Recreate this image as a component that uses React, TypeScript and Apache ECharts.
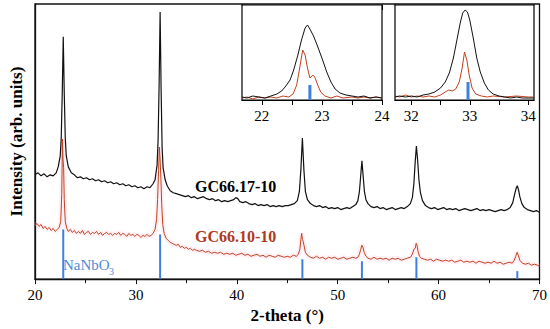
import React, { useEffect, useRef } from "react";
import * as echarts from "echarts";

// Main pattern, intensity in arbitrary units
const blackMain: number[][] = [
  [20.0, 105], [20.3, 107], [20.6, 104], [20.9, 106], [21.2, 103], [21.5, 105], [21.8, 104], [22.1, 107],
  [22.3, 113], [22.5, 124], [22.6, 142], [22.7, 187], [22.8, 244], [22.9, 187], [23.0, 142], [23.1, 124],
  [23.3, 113], [23.6, 107], [23.9, 105], [24.2, 102], [24.5, 103], [24.8, 101], [25.1, 102], [25.4, 100],
  [25.7, 101], [26.0, 99], [26.3, 100], [26.6, 98], [26.9, 99], [27.2, 97], [27.5, 98], [27.8, 96],
  [28.1, 97], [28.4, 95], [28.7, 96], [29.0, 94], [29.3, 95], [29.6, 93], [29.9, 94], [30.2, 92],
  [30.5, 93], [30.8, 91], [31.1, 93], [31.4, 92], [31.7, 96], [31.9, 100], [32.1, 115], [32.2, 140],
  [32.3, 195], [32.4, 269], [32.5, 190], [32.6, 132], [32.7, 112], [32.9, 100], [33.1, 94], [33.4, 89],
  [33.7, 87], [34.0, 86], [34.3, 85], [34.6, 84], [34.9, 83], [35.2, 84], [35.5, 82], [35.8, 83],
  [36.1, 81], [36.4, 82], [36.7, 83], [37.0, 81], [37.3, 80], [37.6, 81], [37.9, 79], [38.2, 80],
  [38.5, 78], [38.8, 79], [39.1, 78], [39.4, 79], [39.7, 80], [39.9, 82], [40.1, 81], [40.3, 78],
  [40.6, 77], [40.9, 78], [41.2, 76], [41.5, 75], [41.8, 76], [42.1, 74], [42.4, 75], [42.7, 74],
  [43.0, 75], [43.3, 73], [43.6, 74], [43.9, 73], [44.2, 74], [44.5, 73], [44.8, 74], [45.1, 74],
  [45.4, 75], [45.7, 76], [46.0, 79], [46.2, 88], [46.35, 110], [46.5, 142], [46.65, 110], [46.8, 88],
  [47.0, 80], [47.3, 76], [47.6, 74], [47.9, 73], [48.2, 74], [48.5, 72], [48.8, 73], [49.1, 71],
  [49.4, 72], [49.7, 71], [50.0, 72], [50.3, 70], [50.6, 71], [50.9, 72], [51.2, 71], [51.5, 73],
  [51.8, 75], [52.0, 79], [52.15, 88], [52.28, 104], [52.4, 119], [52.52, 104], [52.65, 88], [52.8, 80],
  [53.0, 76], [53.3, 73], [53.6, 72], [53.9, 73], [54.2, 71], [54.5, 72], [54.8, 70], [55.1, 71],
  [55.4, 72], [55.7, 70], [56.0, 71], [56.3, 72], [56.6, 71], [56.9, 73], [57.2, 76], [57.4, 82],
  [57.55, 96], [57.68, 118], [57.8, 134], [57.92, 120], [58.05, 100], [58.2, 87], [58.4, 79], [58.7, 74],
  [59.0, 72], [59.3, 71], [59.6, 72], [59.9, 70], [60.2, 71], [60.5, 72], [60.8, 70], [61.1, 71],
  [61.4, 70], [61.7, 71], [62.0, 69], [62.3, 70], [62.6, 71], [62.9, 70], [63.2, 69], [63.5, 70],
  [63.8, 71], [64.1, 69], [64.4, 70], [64.7, 69], [65.0, 70], [65.3, 69], [65.6, 68], [65.9, 69],
  [66.2, 70], [66.5, 69], [66.8, 70], [67.1, 72], [67.35, 77], [67.55, 86], [67.7, 92], [67.8, 94],
  [67.92, 90], [68.05, 83], [68.25, 76], [68.5, 72], [68.8, 70], [69.1, 69], [69.4, 68], [69.7, 69], [70.0, 67],
];

const redMain: number[][] = [
  [20.0, 54], [20.2, 56], [20.4, 53], [20.6, 55], [20.8, 51], [21.0, 53], [21.2, 50], [21.4, 52],
  [21.6, 49], [21.8, 51], [22.0, 48], [22.2, 50], [22.4, 52], [22.55, 58], [22.65, 85], [22.72, 141],
  [22.78, 120], [22.84, 112], [22.9, 80], [23.0, 58], [23.15, 51], [23.3, 48], [23.5, 50], [23.7, 47],
  [23.9, 49], [24.1, 46], [24.3, 48], [24.5, 46], [24.7, 49], [24.9, 45], [25.1, 47], [25.3, 48],
  [25.5, 45], [25.7, 47], [25.9, 46], [26.1, 48], [26.3, 45], [26.5, 47], [26.7, 44], [26.9, 46],
  [27.1, 47], [27.3, 45], [27.5, 46], [27.7, 44], [27.9, 46], [28.1, 45], [28.3, 47], [28.5, 44],
  [28.7, 46], [28.9, 45], [29.1, 43], [29.3, 46], [29.5, 44], [29.7, 45], [29.9, 43], [30.1, 45],
  [30.3, 44], [30.5, 42], [30.7, 44], [30.9, 43], [31.1, 45], [31.3, 43], [31.5, 44], [31.7, 46],
  [31.9, 50], [32.05, 60], [32.15, 80], [32.25, 110], [32.33, 133], [32.4, 120], [32.48, 100], [32.56, 75],
  [32.66, 55], [32.8, 46], [33.0, 41], [33.2, 39], [33.4, 37], [33.6, 36], [33.8, 35], [34.0, 34],
  [34.2, 35], [34.4, 32], [34.6, 33], [34.8, 31], [35.0, 32], [35.2, 30], [35.4, 31], [35.6, 29],
  [35.8, 30], [36.0, 29], [36.3, 28], [36.6, 29], [36.9, 27], [37.2, 28], [37.5, 26], [37.8, 27],
  [38.1, 26], [38.4, 27], [38.7, 25], [39.0, 26], [39.3, 25], [39.6, 26], [39.9, 24], [40.2, 25],
  [40.5, 26], [40.8, 24], [41.1, 25], [41.4, 23], [41.7, 24], [42.0, 25], [42.3, 23], [42.6, 24],
  [42.9, 22], [43.2, 24], [43.5, 23], [43.8, 22], [44.1, 24], [44.4, 23], [44.7, 22], [45.0, 23],
  [45.3, 22], [45.6, 24], [45.9, 23], [46.1, 25], [46.25, 30], [46.35, 40], [46.43, 46], [46.5, 40],
  [46.58, 38], [46.66, 34], [46.8, 27], [47.0, 24], [47.3, 22], [47.6, 21], [47.9, 23], [48.2, 21],
  [48.5, 22], [48.8, 20], [49.1, 22], [49.4, 21], [49.7, 22], [50.0, 20], [50.3, 21], [50.6, 22],
  [50.9, 20], [51.2, 21], [51.5, 22], [51.8, 21], [52.0, 22], [52.15, 25], [52.28, 30], [52.4, 34],
  [52.5, 32], [52.62, 27], [52.8, 23], [53.0, 21], [53.3, 20], [53.6, 22], [53.9, 20], [54.2, 21],
  [54.5, 20], [54.8, 21], [55.1, 19], [55.4, 21], [55.7, 20], [56.0, 21], [56.3, 19], [56.6, 20],
  [56.9, 21], [57.2, 22], [57.4, 25], [57.55, 30], [57.68, 31], [57.78, 36], [57.86, 34], [57.96, 28],
  [58.1, 23], [58.3, 21], [58.6, 20], [58.9, 19], [59.2, 20], [59.5, 18], [59.8, 20], [60.1, 19],
  [60.4, 18], [60.7, 19], [61.0, 18], [61.3, 19], [61.6, 17], [61.9, 18], [62.2, 19], [62.5, 17],
  [62.8, 18], [63.1, 17], [63.4, 18], [63.7, 16], [64.0, 18], [64.3, 17], [64.6, 16], [64.9, 17],
  [65.2, 16], [65.5, 18], [65.8, 16], [66.1, 17], [66.4, 15], [66.7, 16], [67.0, 17], [67.3, 16],
  [67.5, 19], [67.65, 23], [67.78, 27], [67.9, 24], [68.05, 19], [68.3, 16], [68.6, 15], [68.9, 16],
  [69.2, 14], [69.5, 15], [69.8, 14], [70.0, 13],
];

// NaNbO3 reference reflections
const refPositions = [22.8, 32.4, 46.5, 52.4, 57.8, 67.8];
const refHeights = [50, 45, 20, 18, 22, 8];

// Inset 1 (21.7 - 24)
const blackInset1: number[][] = [
  [21.67, 3], [21.75, 2], [21.85, 4], [21.95, 3], [22.05, 2], [22.15, 4], [22.25, 6], [22.33, 9],
  [22.4, 14], [22.47, 20], [22.53, 30], [22.6, 45], [22.66, 60], [22.72, 72], [22.76, 75], [22.8, 71],
  [22.86, 64], [22.92, 55], [23.0, 42], [23.08, 28], [23.15, 18], [23.22, 11], [23.3, 7], [23.4, 5],
  [23.5, 4], [23.6, 3], [23.7, 4], [23.8, 2], [23.9, 3], [24.0, 2],
];
const redInset1: number[][] = [
  [21.67, 2], [21.75, 3], [21.85, 1], [21.95, 3], [22.05, 2], [22.15, 3], [22.25, 2], [22.35, 4],
  [22.45, 3], [22.52, 6], [22.58, 15], [22.63, 32], [22.68, 50], [22.72, 45], [22.76, 32], [22.8, 22],
  [22.85, 25], [22.88, 23], [22.93, 15], [22.98, 8], [23.05, 4], [23.15, 2], [23.25, 4], [23.35, 2],
  [23.5, 3], [23.6, 2], [23.7, 3], [23.8, 2], [23.9, 3], [24.0, 2],
];
const refInset1 = [[22.8, 15]];

// Inset 2 (31.7 - 34.1)
const blackInset2: number[][] = [
  [31.72, 3], [31.8, 4], [31.9, 3], [32.0, 4], [32.1, 3], [32.2, 5], [32.3, 6], [32.4, 8],
  [32.5, 12], [32.58, 18], [32.65, 27], [32.72, 42], [32.78, 60], [32.84, 78], [32.88, 87], [32.92, 90],
  [32.96, 88], [33.0, 80], [33.06, 62], [33.12, 42], [33.18, 28], [33.25, 17], [33.32, 10], [33.4, 6],
  [33.5, 4], [33.6, 3], [33.7, 2], [33.8, 3], [33.9, 2], [34.0, 2], [34.1, 2],
];
const redInset2: number[][] = [
  [31.72, 4], [31.8, 3], [31.9, 5], [32.0, 3], [32.1, 4], [32.2, 3], [32.3, 4], [32.4, 3],
  [32.5, 5], [32.58, 8], [32.64, 10], [32.7, 9], [32.76, 11], [32.82, 18], [32.87, 32], [32.91, 48],
  [32.95, 40], [32.99, 25], [33.04, 12], [33.1, 6], [33.2, 4], [33.3, 3], [33.4, 4], [33.6, 3],
  [33.8, 4], [34.0, 3], [34.1, 3],
];
const refInset2 = [[32.97, 18]];

const mainTicks = [20, 30, 40, 50, 60, 70];
const inset1Labels = [22, 23, 24];
const inset1Ticks = [22, 22.5, 23, 23.5, 24];
const inset2Labels = [32, 33, 34];
const inset2Ticks = [32, 32.5, 33, 33.5, 34];

const FONT = "Liberation Serif";
const BLACK = "#111";
const RED = "#c1401f";
const BLUE = "#3f7fe0";

export default function App() {
  const ref = useRef<HTMLDivElement>(null);
  useEffect(() => {
    if (!ref.current) return;
    const chart = echarts.init(ref.current, null, { renderer: "svg" });
    const insetX = (idx: number, min: number, max: number, labels: number[], ticks: number[]) => [
      {
        type: "value", gridIndex: idx, min, max, position: "bottom",
        axisLine: { show: true, onZero: false, lineStyle: { color: "#000", width: 1.2 } },
        axisTick: { show: true, inside: false, length: 5, customValues: ticks, lineStyle: { color: "#000" } },
        axisLabel: { show: true, customValues: labels, color: "#000", fontFamily: FONT, fontSize: 15, margin: 8 },
        splitLine: { show: false },
      },
      {
        type: "value", gridIndex: idx, min, max, position: "top",
        axisLine: { show: true, onZero: false, lineStyle: { color: "#000", width: 1.2 } },
        axisTick: { show: true, inside: true, length: 5, customValues: ticks, lineStyle: { color: "#000" } },
        axisLabel: { show: false },
        splitLine: { show: false },
      },
    ];
    const option: any = {
      animation: false,
      backgroundColor: "#fff",
      textStyle: { fontFamily: FONT },
      grid: [
        { left: 30, top: 4, width: 510, height: 277, show: true, borderColor: "#111", borderWidth: 1.3, backgroundColor: "transparent" },
        { left: 242, top: 5, width: 140, height: 95, show: true, borderColor: "#000", borderWidth: 1.2, backgroundColor: "#fff", z: 5 },
        { left: 395, top: 5, width: 139, height: 95, show: true, borderColor: "#000", borderWidth: 1.2, backgroundColor: "#fff", z: 5 },
      ],
      xAxis: [
        {
          type: "value", gridIndex: 0, min: 20, max: 70, interval: 10,
          name: "2-theta (°)", nameLocation: "middle", nameGap: 27,
          nameTextStyle: { fontFamily: FONT, fontSize: 17, fontWeight: "bold", color: "#000" },
          axisLine: { show: true, onZero: false, lineStyle: { color: "#111", width: 1.3 } },
          axisTick: { show: true, inside: false, length: 5, lineStyle: { color: "#111" } },
          minorTick: { show: true, splitNumber: 2, length: 4, lineStyle: { color: "#111" } },
          axisLabel: { color: "#000", fontFamily: FONT, fontSize: 15, margin: 8,
            customValues: mainTicks },
          splitLine: { show: false },
        },
        ...insetX(1, 21.67, 24, inset1Labels, inset1Ticks),
        ...insetX(2, 31.72, 34.1, inset2Labels, inset2Ticks),
      ],
      yAxis: [
        {
          type: "value", gridIndex: 0, min: 0, max: 277,
          name: "Intensity (arb. units)", nameLocation: "middle", nameGap: 10, nameRotate: 90,
          nameTextStyle: { fontFamily: FONT, fontSize: 17, fontWeight: "bold", color: "#000" },
          axisLine: { show: true, lineStyle: { color: "#111", width: 1.3 } },
          axisTick: { show: false }, axisLabel: { show: false }, splitLine: { show: false },
        },
        { type: "value", gridIndex: 1, min: 0, max: 95, axisLine: { show: true, lineStyle: { color: "#000" } }, axisTick: { show: false }, axisLabel: { show: false }, splitLine: { show: false } },
        { type: "value", gridIndex: 2, min: 0, max: 95, axisLine: { show: true, lineStyle: { color: "#000" } }, axisTick: { show: false }, axisLabel: { show: false }, splitLine: { show: false } },
      ],
      series: [
        {
          type: "bar", xAxisIndex: 0, yAxisIndex: 0, barWidth: 2, silent: true,
          itemStyle: { color: BLUE },
          data: refPositions.map((p, i) => [p, refHeights[i]]),
        },
        {
          type: "line", xAxisIndex: 0, yAxisIndex: 0, showSymbol: false, silent: true,
          lineStyle: { color: "rgba(255,170,200,0.18)", width: 5 },
          data: redMain, z: 1,
        },
        {
          type: "line", xAxisIndex: 0, yAxisIndex: 0, showSymbol: false,
          lineStyle: { color: RED, width: 1 }, data: redMain, z: 3,
        },
        {
          type: "line", xAxisIndex: 0, yAxisIndex: 0, showSymbol: false,
          lineStyle: { color: BLACK, width: 1.2 }, data: blackMain, z: 3,
        },
        {
          type: "bar", xAxisIndex: 2, yAxisIndex: 1, barWidth: 3, silent: true, z: 6,
          itemStyle: { color: BLUE }, data: refInset1,
        },
        {
          type: "line", xAxisIndex: 2, yAxisIndex: 1, showSymbol: false, z: 7,
          lineStyle: { color: RED, width: 1 }, data: redInset1,
        },
        {
          type: "line", xAxisIndex: 2, yAxisIndex: 1, showSymbol: false, z: 7,
          lineStyle: { color: BLACK, width: 1 }, data: blackInset1,
        },
        {
          type: "bar", xAxisIndex: 4, yAxisIndex: 2, barWidth: 3, silent: true, z: 6,
          itemStyle: { color: BLUE }, data: refInset2,
        },
        {
          type: "line", xAxisIndex: 4, yAxisIndex: 2, showSymbol: false, z: 7,
          lineStyle: { color: RED, width: 1 }, data: redInset2,
        },
        {
          type: "line", xAxisIndex: 4, yAxisIndex: 2, showSymbol: false, z: 7,
          lineStyle: { color: BLACK, width: 1 }, data: blackInset2,
        },
      ],
      graphic: [
        { type: "text", left: 195, top: 178, style: { text: "GC66.17-10", fontFamily: FONT, fontSize: 16, fontWeight: "bold", fill: "#000" }, z: 10 },
        { type: "text", left: 195, top: 228, style: { text: "GC66.10-10", fontFamily: FONT, fontSize: 16, fontWeight: "bold", fill: "#b0381e" }, z: 10 },
        { type: "text", left: 63, top: 257, style: { text: "NaNbO", fontFamily: FONT, fontSize: 15, fill: "#4f88d8" }, z: 10 },
        { type: "text", left: 109, top: 266, style: { text: "3", fontFamily: FONT, fontSize: 10, fill: "#4f88d8" }, z: 10 },
      ],
    };
    chart.setOption(option);
    return () => chart.dispose();
  }, []);
  return <div ref={ref} style={{ width: 550, height: 329, position: "absolute", left: 0, top: 0 }} />;
}
